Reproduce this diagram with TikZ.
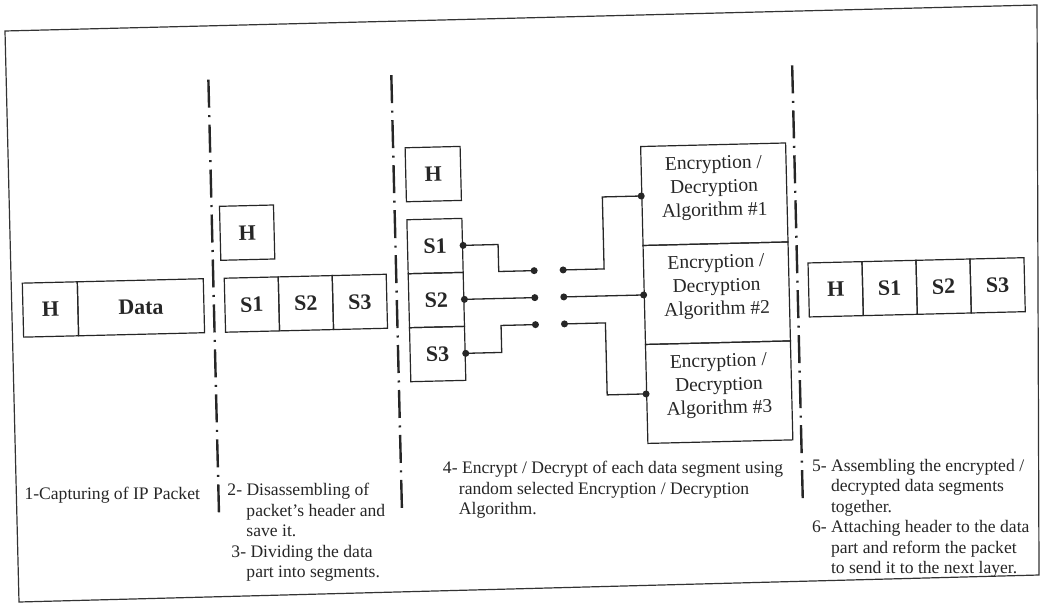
\documentclass[tikz,border=0pt]{standalone}
\usepackage{fontspec}
\setmainfont{Liberation Serif}
\begin{document}
\begin{tikzpicture}[x=1pt,y=-1pt,
  every node/.style={text=black!85},
  frame/.style={draw=black!80, line width=1.2pt, line join=miter},
  cell/.style={draw=black!85, line width=1.2pt, inner sep=0pt, minimum height=54pt,
    font=\fontsize{22}{26}\selectfont\bfseries},
  encbox/.style={draw=black!85, line width=1.2pt, inner sep=0pt, minimum width=145pt, minimum height=99pt},
  enctext/.style={align=center, inner sep=0pt, font=\fontsize{19.5}{23.5}\selectfont},
  divider/.style={draw=black!85, line width=2.4pt, dash pattern=on 28pt off 7.5pt on 2pt off 7.5pt},
  wire/.style={draw=black!85, line width=1.3pt},
  dot/.style={circle, fill=black!85, inner sep=0pt, minimum size=7pt},
  note/.style={anchor=north west, align=left, inner sep=0pt, rotate=-1.4,
    font=\fontsize{17.6}{20.5}\selectfont}
]
\useasboundingbox (0,0) rectangle (1040,613);
\clip (0,0) rectangle (1040,613);
% outer frame (scanned page, slightly tilted)
\coordinate (fa) at (5,31);
\coordinate (fb) at (1037,5);
\coordinate (fc) at (1039,575);
\coordinate (fd) at (19,602);
\draw[frame] (fa) -- (fb) -- (fc) -- (fd) -- cycle;

\begin{scope}[rotate around={1.4:(520,306)}, transform shape]
  % dividers
  \coordinate (d1t) at (214,72);  \coordinate (d1b) at (214,506);
  \coordinate (d2t) at (397,72);  \coordinate (d2b) at (397,506);
  \coordinate (d3t) at (798,72);  \coordinate (d3b) at (798,506);
  \draw[divider] (d1t) -- (d1b);
  \draw[divider] (d2t) -- (d2b);
  \draw[divider] (d3t) -- (d3b);

  % stage 1: captured packet
  \node[cell, minimum width=55pt]  (H0) at (50.5,298) {H};
  \node[cell, minimum width=126pt] (D0) at (141,298) {Data};

  % stage 2: header and segments
  \node[cell, minimum width=54pt] (H1) at (249,226) {H};
  \node[cell, minimum width=54pt] (A1) at (252,298) {S1};
  \node[cell, minimum width=54pt] (A2) at (306,298) {S2};
  \node[cell, minimum width=54pt] (A3) at (360,298) {S3};

  % stage 3: header and stacked segments
  \node[cell, minimum width=55pt] (H2) at (436.5,172) {H};
  \node[cell, minimum width=55pt] (S1) at (436.5,244) {S1};
  \node[cell, minimum width=55pt] (S2) at (436.5,298) {S2};
  \node[cell, minimum width=55pt] (S3) at (436.5,352) {S3};

  % encryption / decryption algorithms
  \node[encbox] (E1) at (717,199) {};
  \node[encbox] (E2) at (717,298) {};
  \node[encbox] (E3) at (717,397) {};
  \node[enctext] (T1) at ([yshift=6pt]E1.center) {Encryption /\\Decryption\\Algorithm \#1};
  \node[enctext] (T2) at ([yshift=6pt]E2.center) {Encryption /\\Decryption\\Algorithm \#2};
  \node[enctext] (T3) at ([yshift=6pt]E3.center) {Encryption /\\Decryption\\Algorithm \#3};

  % final packet
  \node[cell, minimum width=54pt] (F0) at (836,297) {H};
  \node[cell, minimum width=54pt] (F1) at (890,297) {S1};
  \node[cell, minimum width=54pt] (F2) at (944,297) {S2};
  \node[cell, minimum width=54pt] (F3) at (998,297) {S3};

  % switch dots
  \node[dot] (p1) at (S1.east) {};
  \node[dot] (p2) at (S2.east) {};
  \node[dot] (p3) at (S3.east) {};
  \node[dot] (m1) at (535,271) {};
  \node[dot] (m2) at (535,298) {};
  \node[dot] (m3) at (535,325) {};
  \node[dot] (r1) at (564,271) {};
  \node[dot] (r2) at (564,298) {};
  \node[dot] (r3) at (564,325) {};
  \node[dot] (q1) at (E1.west) {};
  \node[dot] (q2) at (E2.west) {};
  \node[dot] (q3) at (E3.west) {};

  % wires
  \draw[wire] (p1.center) -- ++(35,0) -- ++(0,27) -- (m1.center);
  \draw[wire] (p2.center) -- (m2.center);
  \draw[wire] (p3.center) -- ++(36,0) -- ++(0,-27) -- (m3.center);
  \draw[wire] (r1.center) -- ++(41,0) -- ++(0,-72) -- (q1.center);
  \draw[wire] (r2.center) -- (q2.center);
  \draw[wire] (r3.center) -- ++(41,0) -- ++(0,72) -- (q3.center);

  % step descriptions
  \node[note] (t1) at (20,475) {1-Capturing of IP Packet};
  \node[note] (t2) at (223,476) {2- Disassembling of\\\hspace*{19pt}packet’s header and\\\hspace*{19pt}save it.\\\hspace*{4pt}3- Dividing the data\\\hspace*{19pt}part into segments.};
  \node[note] (t4) at (439,459) {4- Encrypt / Decrypt of each data segment using\\\hspace*{16pt}random selected Encryption / Decryption\\\hspace*{16pt}Algorithm.};
  \node[note] (t5) at (808,466) {5- Assembling the encrypted /\\\hspace*{19pt}decrypted data segments\\\hspace*{19pt}together.\\6- Attaching header to the data\\\hspace*{19pt}part and reform the packet\\\hspace*{19pt}to send it to the next layer.};
\end{scope}
\end{tikzpicture}
\end{document}
